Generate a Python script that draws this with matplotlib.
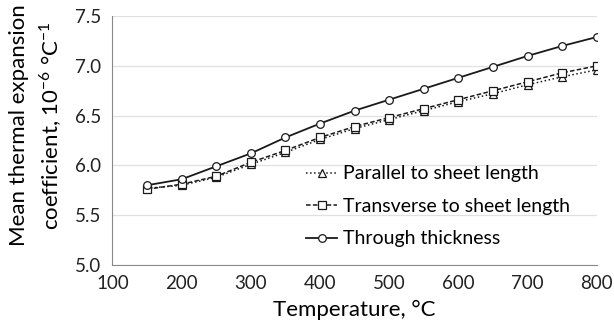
import numpy as np
import matplotlib
matplotlib.use('Agg')
from matplotlib import pyplot as plt

plt.rcParams['font.family'] = ['Lato', 'DejaVu Sans']

temperature = [150, 200, 250, 300, 350, 400, 450, 500, 550, 600, 650, 700, 750, 800]
parallel = [5.77, 5.80, 5.88, 6.01, 6.13, 6.26, 6.37, 6.46, 6.55, 6.64, 6.72, 6.81, 6.89, 6.96]
transverse = [5.76, 5.81, 5.89, 6.03, 6.15, 6.28, 6.39, 6.48, 6.57, 6.66, 6.75, 6.84, 6.93, 7.00]
through = [5.80, 5.86, 5.99, 6.12, 6.28, 6.42, 6.55, 6.66, 6.77, 6.88, 6.99, 7.10, 7.20, 7.29]

fig, ax = plt.subplots(figsize=(6.14, 3.29), dpi=100)
fig.subplots_adjust(left=0.183, right=0.972, top=0.951, bottom=0.195)

mk = dict(markersize=5.5, markerfacecolor='white', markeredgewidth=0.9, color='#1a1a1a')
ax.plot(temperature, parallel, linestyle=':', marker='^', linewidth=1.1,
        label='Parallel to sheet length', **mk)
ax.plot(temperature, transverse, linestyle='--', marker='s', linewidth=1.1,
        dashes=(3, 1.5), label='Transverse to sheet length', **mk)
ax.plot(temperature, through, linestyle='-', marker='o', linewidth=1.3,
        label='Through thickness', **mk)

ax.set_xlim(100, 800)
ax.set_ylim(5.0, 7.5)
ax.set_xticks(np.arange(100, 801, 100))
ax.set_yticks(np.arange(5.0, 7.51, 0.5))
ax.yaxis.set_major_formatter(matplotlib.ticker.FormatStrFormatter('%.1f'))
ax.grid(axis='y', color='#e0e0e0', linewidth=0.9)
ax.set_axisbelow(True)
for s in ['top', 'right']:
    ax.spines[s].set_visible(False)
for s in ['left', 'bottom']:
    ax.spines[s].set_color('#888888')
ax.tick_params(length=0, labelsize=13.5, colors='#222222')
ax.tick_params(axis='x', pad=7)
ax.tick_params(axis='y', pad=8)

ax.set_xlabel('Temperature, °C', fontsize=16, labelpad=6)
ax.set_ylabel('Mean thermal expansion\ncoefficient, 10$^{\\mathregular{-6}}$ °C$^{\\mathregular{-1}}$',
              fontsize=16, linespacing=1.4)
ax.yaxis.set_label_coords(-0.10, 0.56)

ax.legend(loc='center left', bbox_to_anchor=(0.40, 0.235), frameon=False, fontsize=14,
          handlelength=1.6, handletextpad=0.3, labelspacing=0.8,
          borderpad=0, borderaxespad=0)

fig.savefig('out.png')
